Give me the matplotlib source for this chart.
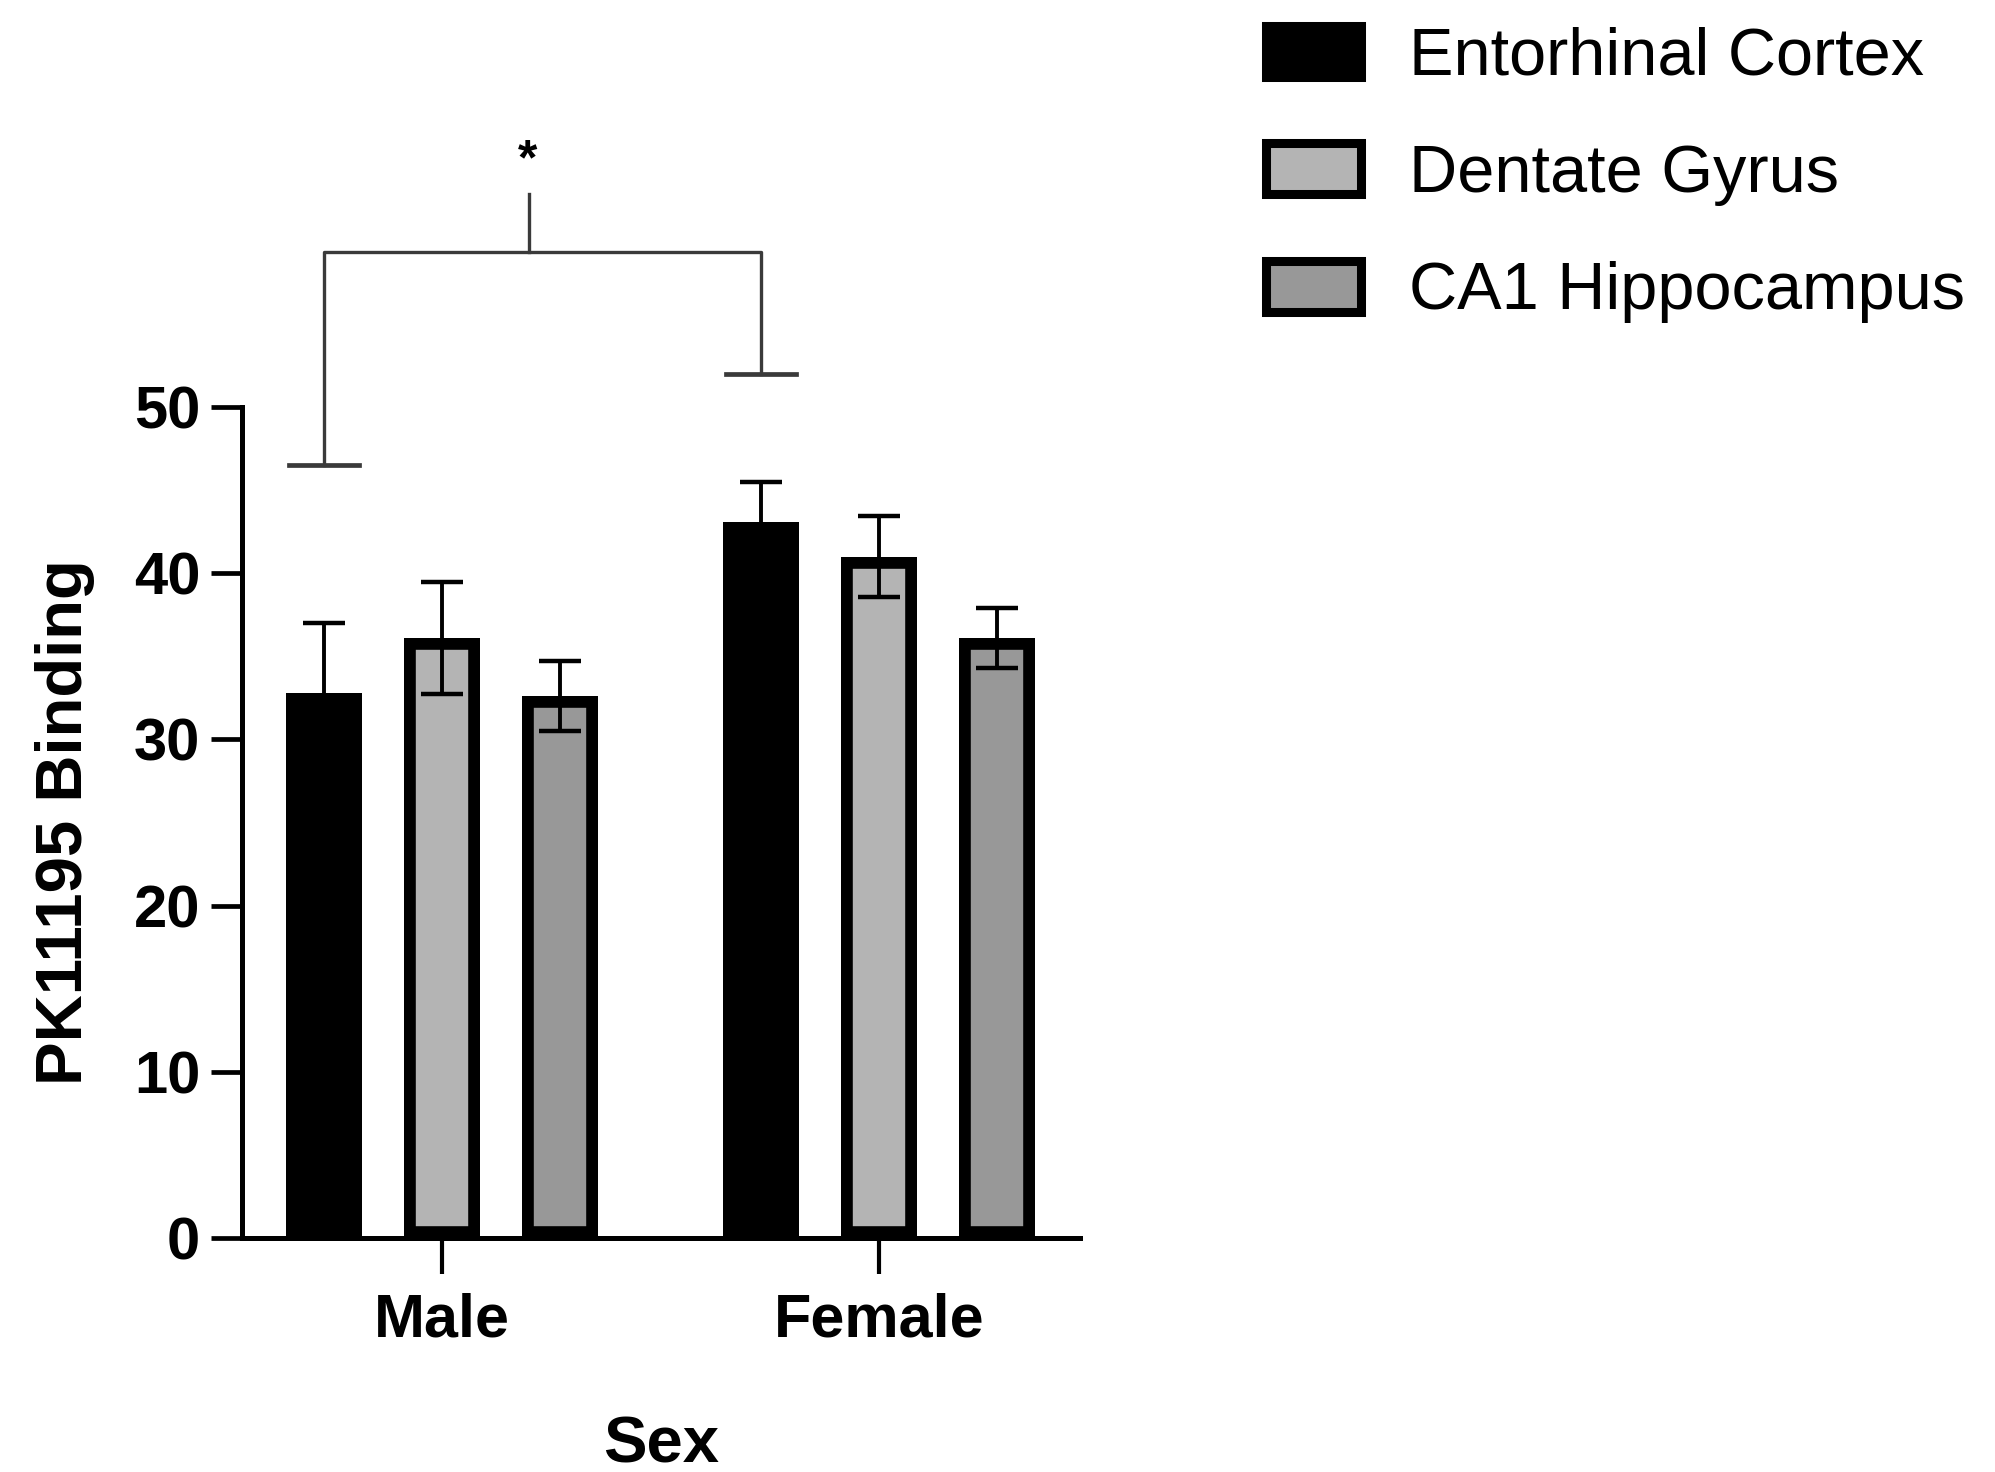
import numpy as np
import matplotlib
matplotlib.use("Agg")
import matplotlib.pyplot as plt
from matplotlib.patches import Patch

plt.rcParams["font.family"] = ["Liberation Sans", "DejaVu Sans"]

# Data
groups = ["Male", "Female"]
regions = ["Entorhinal Cortex", "Dentate Gyrus", "CA1 Hippocampus"]
means = {
    "Entorhinal Cortex": [32.8, 43.1],
    "Dentate Gyrus": [36.1, 41.0],
    "CA1 Hippocampus": [32.6, 36.1],
}
sems = {
    "Entorhinal Cortex": [4.2, 2.4],
    "Dentate Gyrus": [3.35, 2.45],
    "CA1 Hippocampus": [2.1, 1.8],
}
colors = {"Entorhinal Cortex": "#000000", "Dentate Gyrus": "#b4b4b4", "CA1 Hippocampus": "#989898"}

# significance bracket (male EC vs female EC)
left_cap, right_cap, bracket_top, stem_top, star_y = 46.5, 52.0, 59.3, 62.8, 64.8

fig = plt.figure(figsize=(19.95, 14.72), dpi=100)
ax = fig.add_axes([242 / 1995, 234 / 1472, 838 / 1995, 831 / 1472])

x = np.arange(len(groups))
offset = 0.27
width = 0.176
for i, reg in enumerate(regions):
    pos = x + (i - 1) * offset
    bars = ax.bar(pos, means[reg], width=width, color=colors[reg],
                  edgecolor="black", linewidth=17, zorder=2)
    for b in bars:
        b.set_clip_path(b)  # keep border inside the bar like GraphPad
    ax.errorbar(pos, means[reg], yerr=sems[reg], fmt="none", ecolor="black",
                elinewidth=2.8, capsize=15, capthick=3.2, zorder=3)

# bracket
xl = 0 - offset
xr = 1 - offset
xm = 0.2
bc = "#3a3a3a"
ax.plot([xl, xl, xr, xr], [left_cap, bracket_top, bracket_top, right_cap],
        color=bc, lw=2.4, clip_on=False, solid_joinstyle="round", zorder=4)
ax.plot([xm, xm], [bracket_top, stem_top], color=bc, lw=2.4, clip_on=False)
cap_half = 0.08
ax.plot([xl - cap_half, xl + cap_half], [left_cap, left_cap], color=bc, lw=3.4, clip_on=False)
ax.plot([xr - cap_half, xr + cap_half], [right_cap, right_cap], color=bc, lw=3.4, clip_on=False)
ax.text(xm - 0.005, star_y, "*", ha="center", va="center", fontsize=36,
        fontweight="bold", clip_on=False)

ax.set_xlim(-0.4577, 1.46)
ax.set_ylim(0, 50)
ax.set_yticks([0, 10, 20, 30, 40, 50])
ax.set_xticks(x)
ax.set_xticklabels(groups)
for s in ["top", "right"]:
    ax.spines[s].set_visible(False)
for s in ["left", "bottom"]:
    ax.spines[s].set_linewidth(3.6)
    ax.spines[s].set_zorder(5)
ax.tick_params(axis="y", length=22, width=3.4, pad=8, labelsize=43)
ax.tick_params(axis="x", length=26, width=3.0, pad=13, labelsize=44)
for lab in ax.get_xticklabels() + ax.get_yticklabels():
    lab.set_fontweight("bold")

ax.set_ylabel("PK11195 Binding", fontsize=47, fontweight="bold", labelpad=28)
ax.set_xlabel("Sex", fontsize=47, fontweight="bold", labelpad=48)

handles = [Patch(facecolor=colors[r], edgecolor="black", linewidth=6.5) for r in regions]
fig.legend(handles, regions, loc="upper left", bbox_to_anchor=(1266 / 1995, 1 - 26 / 1472),
           frameon=False, fontsize=48, handlelength=1.42, handleheight=0.8,
           handletextpad=0.72, labelspacing=0.82, borderpad=0, borderaxespad=0)

fig.savefig("out.png", dpi=100)
